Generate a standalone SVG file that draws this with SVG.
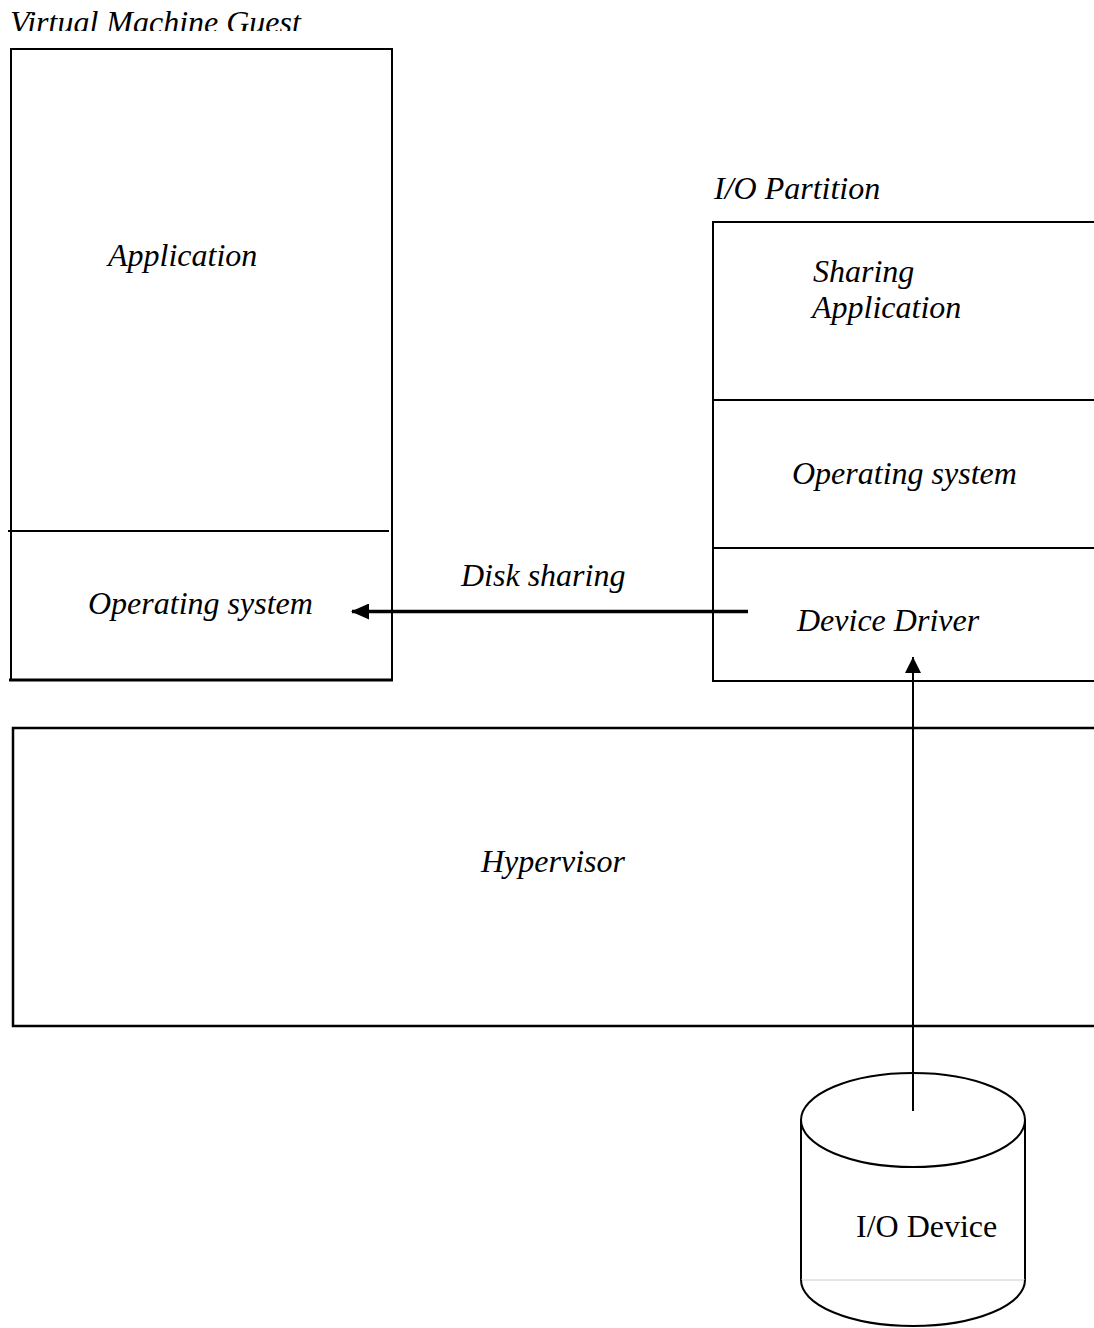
<svg xmlns="http://www.w3.org/2000/svg" width="1094" height="1328" viewBox="0 0 1094 1328">
  <style>
    .box { fill: none; stroke: #000; stroke-width: 2; }
    .lbl { font-family: "Liberation Serif", "Times New Roman", serif; font-style: italic; font-size: 32px; fill: #000; }
    .plain { font-family: "Liberation Serif", "Times New Roman", serif; font-size: 32px; fill: #000; }
  </style>
  <defs>
    <clipPath id="topClip">
      <rect x="0" y="0" width="1094" height="31"/>
    </clipPath>
    <marker id="headBig" viewBox="0 0 18 16" refX="17" refY="8" markerWidth="18" markerHeight="16" markerUnits="userSpaceOnUse" orient="auto">
      <path d="M0,0 L18,8 L0,16 Z" fill="#000"/>
    </marker>
    <marker id="headSmall" viewBox="0 0 16 16" refX="16" refY="8" markerWidth="16" markerHeight="16" markerUnits="userSpaceOnUse" orient="auto">
      <path d="M0,0 L16,8 L0,16 Z" fill="#000"/>
    </marker>
  </defs>
  <rect width="1094" height="1328" fill="#fff"/>

  <!-- Virtual machine guest -->
  <g id="vm-guest">
    <text class="lbl" x="10" y="33" clip-path="url(#topClip)">Virtual Machine Guest</text>
    <path class="box" d="M11,680 L11,49 L392,49 L392,680"/>
    <line class="box" x1="8" y1="531" x2="389" y2="531"/>
    <line x1="9" y1="680" x2="393" y2="680" stroke="#000" stroke-width="3"/>
    <text class="lbl" x="108" y="266">Application</text>
    <text class="lbl" x="88" y="614">Operating system</text>
  </g>

  <!-- I/O partition -->
  <g id="io-partition">
    <text class="lbl" x="714" y="199">I/O Partition</text>
    <path class="box" d="M1100,222 L713,222 L713,681 L1100,681"/>
    <line class="box" x1="713" y1="400" x2="1100" y2="400"/>
    <line class="box" x1="713" y1="548" x2="1100" y2="548"/>
    <text class="lbl" x="813" y="282">Sharing</text>
    <text class="lbl" x="812" y="318">Application</text>
    <text class="lbl" x="792" y="484">Operating system</text>
    <text class="lbl" x="797" y="631">Device Driver</text>
  </g>

  <!-- Hypervisor -->
  <g id="hypervisor">
    <path d="M1100,728 L13,728 L13,1026 L1100,1026" fill="none" stroke="#000" stroke-width="2.5"/>
    <text class="lbl" x="481" y="872">Hypervisor</text>
  </g>

  <!-- I/O device (disk cylinder) -->
  <g id="io-device">
    <ellipse cx="913" cy="1120" rx="112" ry="47" fill="none" stroke="#000" stroke-width="2"/>
    <line class="box" x1="801" y1="1120" x2="801" y2="1280"/>
    <line class="box" x1="1025" y1="1120" x2="1025" y2="1280"/>
    <line x1="801" y1="1280" x2="1025" y2="1280" stroke="#ccc" stroke-width="1"/>
    <path class="box" d="M801,1280 A112,46 0 0 0 1025,1280"/>
    <text class="plain" x="856" y="1237">I/O Device</text>
  </g>

  <!-- Connectors -->
  <g id="connectors">
    <line x1="748" y1="611.5" x2="352" y2="611.5" stroke="#000" stroke-width="3.5" marker-end="url(#headBig)"/>
    <text class="lbl" x="461" y="586">Disk sharing</text>
    <line x1="913" y1="1111" x2="913" y2="657" stroke="#000" stroke-width="2" marker-end="url(#headSmall)"/>
  </g>
</svg>
